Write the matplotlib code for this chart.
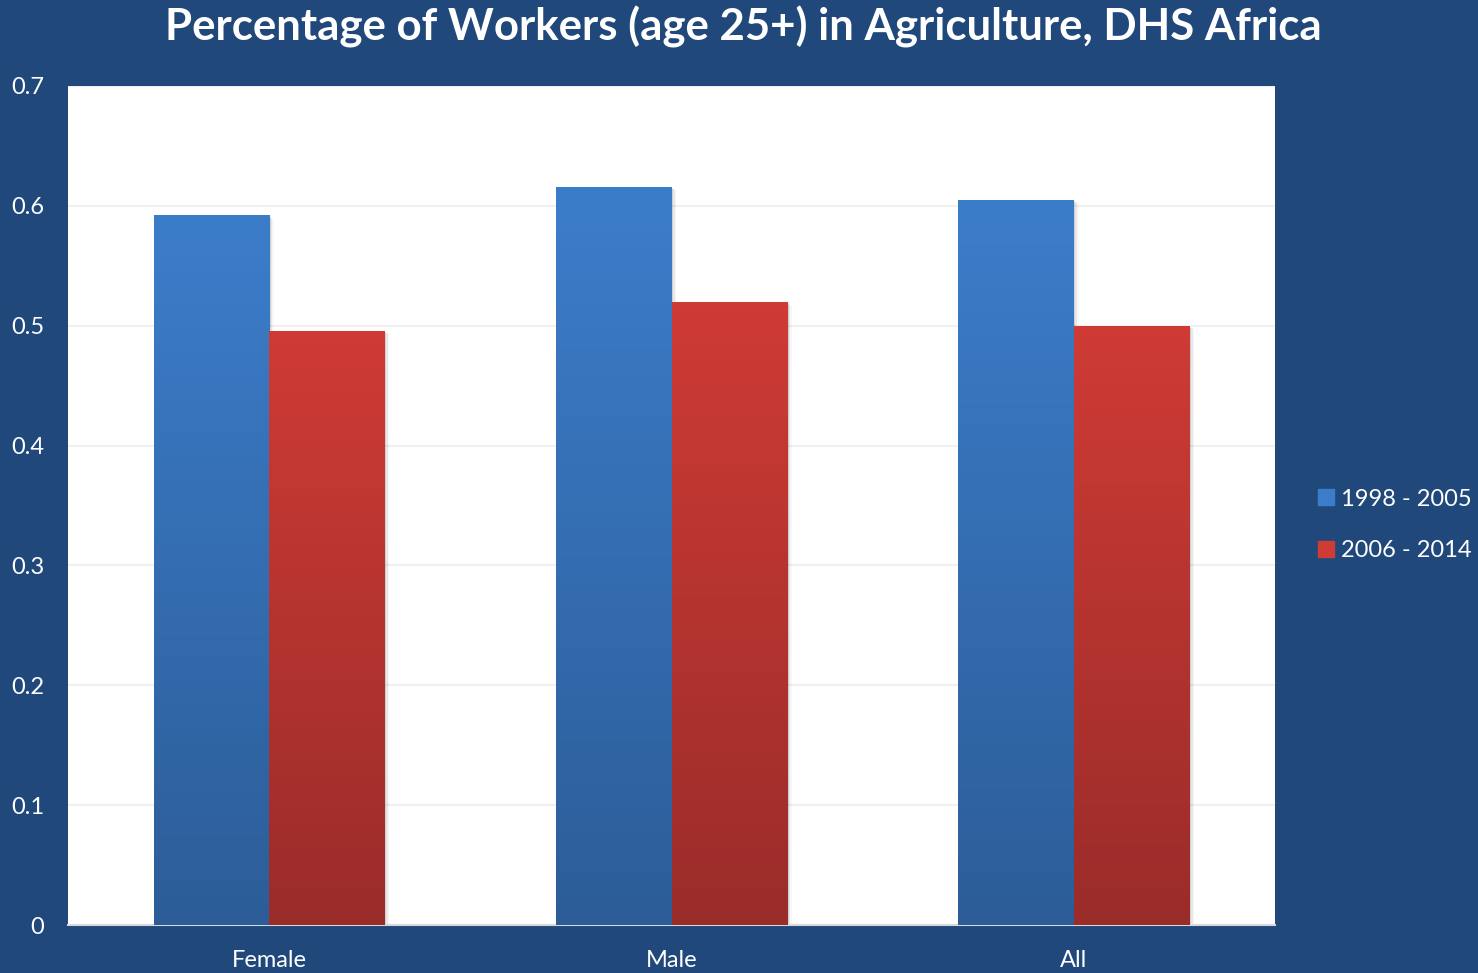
import numpy as np
import matplotlib.pyplot as plt
from matplotlib.patches import Rectangle
from matplotlib.colors import LinearSegmentedColormap

# Share of workers aged 25+ in agriculture
categories = ['Female', 'Male', 'All']
period_labels = ['1998 - 2005', '2006 - 2014']
early = [0.592, 0.616, 0.605]
late = [0.496, 0.520, 0.500]
yticks = [0, 0.1, 0.2, 0.3, 0.4, 0.5, 0.6, 0.7]
ytick_labels = ['0', '0.1', '0.2', '0.3', '0.4', '0.5', '0.6', '0.7']

bg_color = '#20487A'
blue_top, blue_bottom = '#3C7DCA', '#2C5D98'
red_top, red_bottom = '#CF3B35', '#9A2C2A'

plt.rcParams['font.family'] = ['Lato', 'DejaVu Sans']

fig = plt.figure(figsize=(14.78, 9.73), dpi=100, facecolor=bg_color)
ax = fig.add_axes([68 / 1478, 1 - 925 / 973, 1207 / 1478, 839 / 973])
ax.set_facecolor('white')

x = np.arange(len(categories))
width = 0.287


def gradient_bars(xs, heights, top, bottom, label):
    bars = ax.bar(xs, heights, width, color=top, label=label, zorder=2)
    grad = np.linspace(0, 1, 256).reshape(-1, 1)
    cmap = LinearSegmentedColormap.from_list('g', [bottom, top])
    for b in bars:
        x0, w, h = b.get_x(), b.get_width(), b.get_height()
        # soft drop shadow to the right
        for i, a in enumerate([0.10, 0.06, 0.03]):
            sh = Rectangle((x0 + 0.004 * (i + 1), 0), w, h - 0.001 * (i + 1),
                           color='black', alpha=a, lw=0, zorder=1)
            ax.add_patch(sh)
        im = ax.imshow(grad, extent=[x0, x0 + w, 0, h], origin='lower',
                       cmap=cmap, aspect='auto', zorder=3)
        im.set_clip_path(b)
    return bars


gradient_bars(x - width / 2, early, blue_top, blue_bottom, period_labels[0])
gradient_bars(x + width / 2, late, red_top, red_bottom, period_labels[1])

ax.set_xlim(-0.5, 2.5)
ax.set_ylim(0, 0.7)
ax.set_yticks(yticks)
ax.set_yticklabels(ytick_labels)
ax.set_xticks(x)
ax.set_xticklabels(categories)
ax.grid(axis='y', color='#F0F0F0', lw=1.5, zorder=0)
ax.set_axisbelow(True)
for s in ['top', 'right', 'left']:
    ax.spines[s].set_visible(False)
ax.spines['bottom'].set_color('#D9D9D9')
ax.spines['bottom'].set_linewidth(1.5)
ax.tick_params(axis='both', length=0, colors='white', labelsize=17)
ax.tick_params(axis='y', pad=17)
ax.tick_params(axis='x', pad=18)

fig.text(0.503, 1 - 27 / 973, 'Percentage of Workers (age 25+) in Agriculture, DHS Africa',
         ha='center', va='center', color='white', fontsize=31.5, fontweight='bold')

handles = [Rectangle((0, 0), 1, 1, color=blue_top), Rectangle((0, 0), 1, 1, color=red_top)]
leg = fig.legend(handles, period_labels, loc='center left',
                 bbox_to_anchor=(1297 / 1478, 1 - 525 / 973), frameon=False,
                 fontsize=17, labelcolor='white', handlelength=0.65, handleheight=0.65,
                 handletextpad=0.3, labelspacing=1.3)

fig.savefig('out.png', dpi=100, facecolor=bg_color)
